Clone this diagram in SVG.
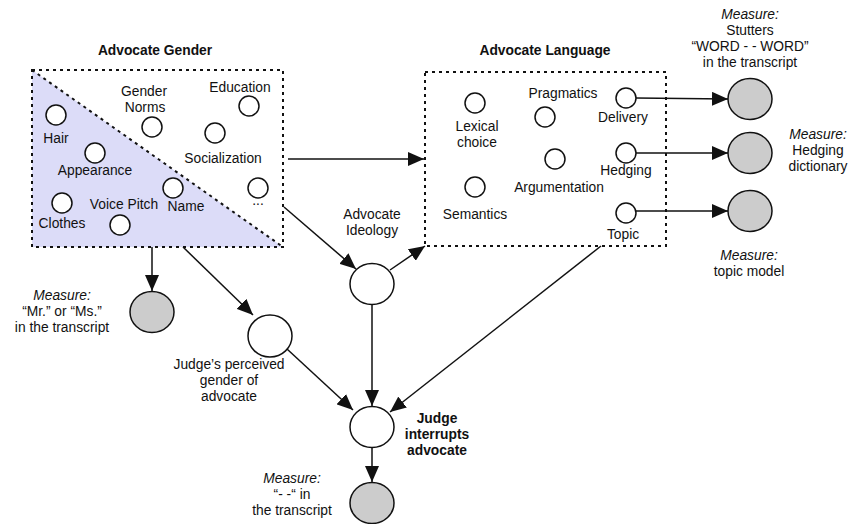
<svg xmlns="http://www.w3.org/2000/svg" width="850" height="524" viewBox="0 0 850 524">
<style>
text{font-family:"Liberation Sans",Arial,sans-serif;font-size:13.8px;fill:#111;text-anchor:middle}
.b{font-weight:bold}
.i{font-style:italic}
.box{fill:none;stroke:#111;stroke-width:2;stroke-dasharray:3 4}
.sc{fill:#fff;stroke:#111;stroke-width:1.5}
.big{fill:#fff;stroke:#111;stroke-width:1.5}
.gray{fill:#cccccc;stroke:#111;stroke-width:1.5}
.e{fill:none;stroke:#111;stroke-width:1.5}
</style>
<defs>
<marker id="ah" markerUnits="userSpaceOnUse" markerWidth="16" markerHeight="14" refX="16" refY="7" orient="auto">
<path d="M0,0 L16,7 L0,14 z" fill="#111"/>
</marker>
</defs>

<g id="gender-box">
<polygon points="32,70 283,247 32,247" fill="#dcdcf8"/>
<line x1="32" y1="70" x2="283" y2="247" class="box"/>
<rect x="32" y="70" width="251" height="177" class="box"/>
<text x="155" y="55" class="b">Advocate Gender</text>
</g>
<g id="hair"><circle cx="56" cy="115" r="10" class="sc"/><text x="56" y="143">Hair</text></g>
<g id="appearance"><circle cx="95" cy="153" r="10" class="sc"/><text x="95" y="175">Appearance</text></g>
<g id="clothes"><circle cx="62" cy="203" r="10" class="sc"/><text x="62" y="228">Clothes</text></g>
<g id="voice-pitch"><circle cx="120" cy="225" r="10" class="sc"/><text x="124" y="209">Voice Pitch</text></g>
<g id="name"><circle cx="173" cy="188" r="10" class="sc"/><text x="186" y="211">Name</text></g>
<g id="gender-norms"><circle cx="152" cy="127" r="10" class="sc"/><text x="144" y="96">Gender</text><text x="145" y="112">Norms</text></g>
<g id="education"><circle cx="249" cy="106" r="10" class="sc"/><text x="240" y="92">Education</text></g>
<g id="socialization"><circle cx="215" cy="133" r="10" class="sc"/><text x="223" y="163">Socialization</text></g>
<g id="more"><circle cx="258" cy="188" r="10" class="sc"/><text x="258" y="205">...</text></g>

<g id="language-box">
<rect x="425" y="72" width="241" height="174" class="box"/>
<text x="545" y="55" class="b">Advocate Language</text>
</g>
<g id="lexical"><circle cx="475" cy="103" r="10" class="sc"/><text x="477" y="131">Lexical</text><text x="477" y="147">choice</text></g>
<g id="pragmatics"><circle cx="545" cy="117" r="10" class="sc"/><text x="563" y="98">Pragmatics</text></g>
<g id="delivery"><circle cx="626" cy="98" r="10" class="sc"/><text x="623" y="122">Delivery</text></g>
<g id="argumentation"><circle cx="555" cy="159" r="10" class="sc"/><text x="559" y="192">Argumentation</text></g>
<g id="hedging"><circle cx="626" cy="153" r="10" class="sc"/><text x="626" y="175">Hedging</text></g>
<g id="semantics"><circle cx="475" cy="187" r="10" class="sc"/><text x="475" y="219">Semantics</text></g>
<g id="topic"><circle cx="626" cy="213" r="10" class="sc"/><text x="623" y="239">Topic</text></g>

<g id="m-stutters"><ellipse cx="750" cy="99" rx="22" ry="20.5" class="gray"/>
<text x="750" y="19" class="i">Measure:</text><text x="750" y="35">Stutters</text><text x="750" y="51">“WORD - - WORD”</text><text x="750" y="67">in the transcript</text></g>
<g id="m-hedging"><ellipse cx="750" cy="153" rx="22" ry="20.5" class="gray"/>
<text x="818" y="139" class="i">Measure:</text><text x="818" y="155">Hedging</text><text x="818" y="171">dictionary</text></g>
<g id="m-topic"><ellipse cx="750" cy="211" rx="22" ry="20.5" class="gray"/>
<text x="749" y="260" class="i">Measure:</text><text x="749" y="276">topic model</text></g>

<g id="m-title"><ellipse cx="152" cy="312" rx="22" ry="20.5" class="gray"/>
<text x="62" y="300" class="i">Measure:</text><text x="62" y="316">“Mr.” or “Ms.”</text><text x="62" y="332">in the transcript</text></g>
<g id="perceived"><ellipse cx="270" cy="336" rx="22" ry="21" class="big"/>
<text x="229" y="369">Judge’s perceived</text><text x="229" y="385">gender of</text><text x="229" y="401">advocate</text></g>
<g id="ideology"><ellipse cx="372" cy="284" rx="22" ry="20.5" class="big"/>
<text x="372" y="219">Advocate</text><text x="372" y="235">Ideology</text></g>
<g id="interrupts"><ellipse cx="372" cy="427" rx="22" ry="20.5" class="big"/>
<text x="437" y="423" class="b">Judge</text><text x="437" y="439" class="b">interrupts</text><text x="437" y="455" class="b">advocate</text></g>
<g id="m-interrupt"><ellipse cx="372" cy="503" rx="22" ry="20.5" class="gray"/>
<text x="292" y="483" class="i">Measure:</text><text x="292" y="499">“- -“ in</text><text x="292" y="515">the transcript</text></g>

<g id="connectors">
<line x1="636" y1="98" x2="728" y2="99" class="e" marker-end="url(#ah)"/>
<line x1="636" y1="153" x2="728" y2="153" class="e" marker-end="url(#ah)"/>
<line x1="636" y1="211" x2="728" y2="211" class="e" marker-end="url(#ah)"/>
<line x1="288" y1="159" x2="424" y2="159" class="e" marker-end="url(#ah)"/>
<line x1="284" y1="207" x2="356" y2="269" class="e" marker-end="url(#ah)"/>
<line x1="390" y1="270" x2="425" y2="246" class="e" marker-end="url(#ah)"/>
<line x1="152" y1="247" x2="152" y2="291" class="e" marker-end="url(#ah)"/>
<line x1="183" y1="247" x2="253" y2="315" class="e" marker-end="url(#ah)"/>
<line x1="287" y1="349" x2="353" y2="410" class="e" marker-end="url(#ah)"/>
<line x1="372" y1="305" x2="372" y2="406" class="e" marker-end="url(#ah)"/>
<line x1="601" y1="246" x2="390" y2="412" class="e" marker-end="url(#ah)"/>
<line x1="372" y1="448" x2="372" y2="482" class="e" marker-end="url(#ah)"/>
</g>
</svg>
